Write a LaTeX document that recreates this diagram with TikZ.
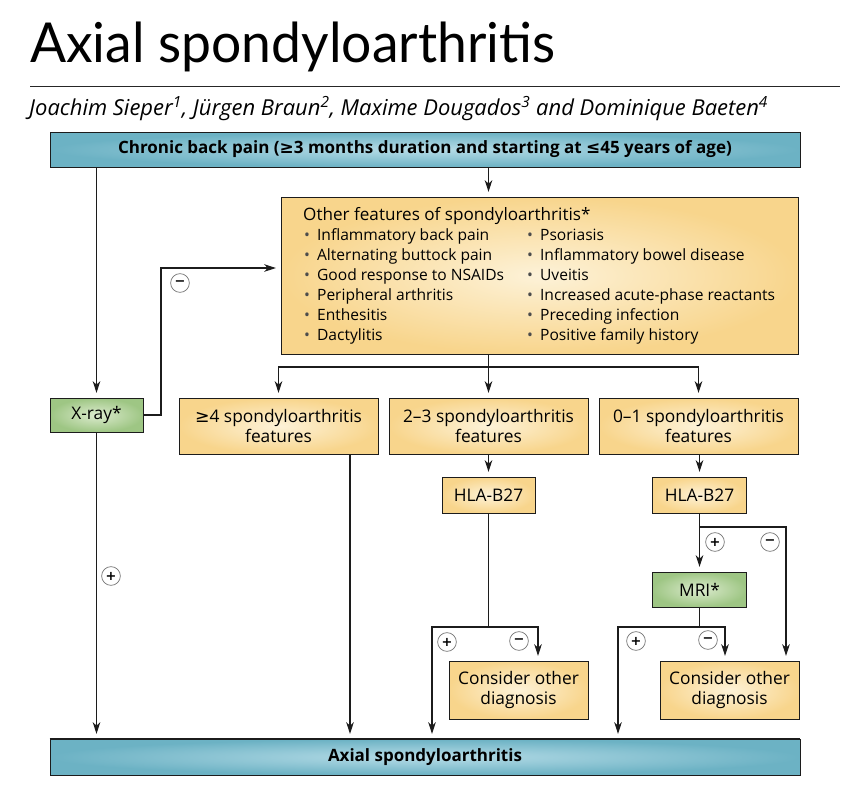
\documentclass[tikz,border=0pt]{standalone}
\usepackage{fontspec}
\setmainfont{Open Sans}
\newfontfamily\symfont{DejaVu Sans}
\newfontfamily\titlefont[FakeStretch=0.97]{Lato}
\usetikzlibrary{arrows.meta}
\definecolor{edge}{RGB}{28,28,28}
\definecolor{barteal}{RGB}{108,178,196}
\definecolor{barlight}{RGB}{182,220,231}
\definecolor{boxyel}{RGB}{248,213,140}
\definecolor{boxlight}{RGB}{253,242,216}
\definecolor{boxgreen}{RGB}{158,198,132}
\definecolor{greenlight}{RGB}{220,235,206}

\begin{document}
\begin{tikzpicture}[scale=0.3]
	\tikzstyle{every node}+=[inner sep=0pt]
	\tikzstyle{bar}=[draw=edge, line width=0.8pt, inner color=barlight, outer color=barteal, minimum width=22.5cm, font=\fontsize{14.5}{17}\selectfont\bfseries]
	\tikzstyle{yelbox}=[draw=edge, line width=0.8pt, inner color=boxlight, outer color=boxyel, align=center, font=\fontsize{14.8}{17}\selectfont]
	\tikzstyle{grnbox}=[draw=edge, line width=0.8pt, inner color=greenlight, outer color=boxgreen, align=center, font=\fontsize{14.8}{17}\selectfont]
	\tikzstyle{item}=[anchor=base west, font=\fontsize{13.3}{15}\selectfont]
	\tikzstyle{sign}=[circle, draw=black!55, line width=0.6pt, minimum size=16pt, fill=white, font=\symfont\bfseries\fontsize{11}{11}\selectfont]
	\tikzstyle{line}=[draw=edge, line width=0.9pt]
	\tikzstyle{arr}=[line, -{Stealth[length=10pt, width=6.5pt, inset=3pt]}, shorten >=4pt]
	\useasboundingbox (0,0) rectangle (86.3,-79.1);
	\node [anchor=base west, font=\titlefont\fontsize{47}{50}\selectfont] (title) at (3.0,-6.2) {Axial spondyloarthritis};
	\draw [line width=0.7pt, black!85] (3.0,-8.6) -- (84.0,-8.6);
	\node [anchor=base west, font=\itshape\fontsize{18.75}{20}\selectfont] (authors) at (2.9,-11.5) {Joachim Sieper\textsuperscript{1}, Jürgen Braun\textsuperscript{2}, Maxime Dougados\textsuperscript{3} and Dominique Baeten\textsuperscript{4}};
	\node [bar, minimum height=1.05cm] (chronic) at (42.5,-14.95) {Chronic back pain ({\symfont ≥}3 months duration and starting at {\symfont ≤}45 years of age)};
	\node [yelbox, minimum width=15.51cm, minimum height=4.71cm] (features) at (53.95,-27.55) {};
	\node [item, font=\fontsize{14.6}{15}\selectfont] (ft) at (30.3,-22.0) {Other features of spondyloarthritis*};
	\node [item] (a1) at (30.4,-24.0) {{\color{black!70}\textbullet}\hspace{6pt}Inflammatory back pain};
	\node [item] (a2) at (30.4,-26.0) {{\color{black!70}\textbullet}\hspace{6pt}Alternating buttock pain};
	\node [item] (a3) at (30.4,-28.0) {{\color{black!70}\textbullet}\hspace{6pt}Good response to NSAIDs};
	\node [item] (a4) at (30.4,-30.0) {{\color{black!70}\textbullet}\hspace{6pt}Peripheral arthritis};
	\node [item] (a5) at (30.4,-32.0) {{\color{black!70}\textbullet}\hspace{6pt}Enthesitis};
	\node [item] (a6) at (30.4,-34.0) {{\color{black!70}\textbullet}\hspace{6pt}Dactylitis};
	\node [item] (b1) at (52.7,-24.0) {{\color{black!70}\textbullet}\hspace{6pt}Psoriasis};
	\node [item] (b2) at (52.7,-26.0) {{\color{black!70}\textbullet}\hspace{6pt}Inflammatory bowel disease};
	\node [item] (b3) at (52.7,-28.0) {{\color{black!70}\textbullet}\hspace{6pt}Uveitis};
	\node [item] (b4) at (52.7,-30.0) {{\color{black!70}\textbullet}\hspace{6pt}Increased acute-phase reactants};
	\node [item] (b5) at (52.7,-32.0) {{\color{black!70}\textbullet}\hspace{6pt}Preceding infection};
	\node [item] (b6) at (52.7,-34.0) {{\color{black!70}\textbullet}\hspace{6pt}Positive family history};
	\node [grnbox, minimum width=2.79cm, minimum height=1.02cm] (xray) at (9.65,-41.5) {X-ray*};
	\node [yelbox, minimum width=5.97cm, minimum height=1.68cm] (four) at (27.85,-42.6) {{\symfont ≥}4 spondyloarthritis\\features};
	\node [yelbox, minimum width=5.97cm, minimum height=1.68cm] (two) at (48.85,-42.6) {2--3 spondyloarthritis\\features};
	\node [yelbox, minimum width=5.97cm, minimum height=1.68cm] (three) at (69.85,-42.6) {0--1 spondyloarthritis\\features};
	\node [yelbox, minimum width=2.79cm, minimum height=1.08cm] (hla1) at (48.85,-49.5) {HLA-B27};
	\node [yelbox, minimum width=2.82cm, minimum height=1.08cm] (hla2) at (69.95,-49.5) {HLA-B27};
	\node [grnbox, minimum width=2.82cm, minimum height=1.05cm] (mri) at (69.95,-58.95) {MRI*};
	\node [yelbox, minimum width=4.17cm, minimum height=1.74cm] (other1) at (51.85,-69.0) {Consider other\\diagnosis};
	\node [yelbox, minimum width=4.17cm, minimum height=1.74cm] (other2) at (72.95,-69.0) {Consider other\\diagnosis};
	\node [bar, minimum height=1.08cm] (axial) at (42.5,-75.7) {Axial spondyloarthritis};
	\draw [edge, line width=1.6pt] (axial.north west) -- (axial.north east);
	\coordinate (bus) at (48.85,-36.7);
	\coordinate (bend) at (16.1,-26.8);
	\coordinate (s4) at (35.0,-45.4);
	\coordinate (sp1) at (48.85,-62.7);
	\coordinate (l1) at (43.2,-62.7);
	\coordinate (r1) at (53.8,-62.7);
	\coordinate (sp2) at (69.95,-52.7);
	\coordinate (r2) at (78.6,-52.7);
	\coordinate (sp3) at (69.95,-62.7);
	\coordinate (l3) at (61.8,-62.7);
	\coordinate (r3) at (72.5,-62.7);
	\draw [arr] (chronic.south -| xray.north) -- (xray.north);
	\draw [arr] (chronic.south -| two.north) -- (features.north -| two.north);
	\draw [arr] (xray.east) -| (bend) -- (bend -| features.west);
	\draw [line] (features.south -| bus) -- (bus);
	\draw [arr] (bus) -| (four.north);
	\draw [arr] (bus) -| (three.north);
	\draw [arr] (bus) -- (two.north);
	\draw [arr] (xray.south) -- (xray.south |- axial.north);
	\draw [arr] (s4) -- (s4 |- axial.north);
	\draw [arr] (two.south) -- (hla1.north);
	\draw [arr] (three.south -| hla2.north) -- (hla2.north);
	\draw [line] (hla1.south) -- (sp1);
	\draw [arr] (sp1) -- (l1) -- (l1 |- axial.north);
	\draw [arr] (sp1) -- (r1) -- (r1 |- other1.north);
	\draw [arr] (hla2.south) -- (sp2) -- (mri.north);
	\draw [arr] (sp2) -- (r2) -- (r2 |- other2.north);
	\draw [line] (mri.south) -- (sp3);
	\draw [arr] (sp3) -- (l3) -- (l3 |- axial.north);
	\draw [arr] (sp3) -- (r3) -- (r3 |- other2.north);
	\node [sign] (m1) at (18.0,-28.3) {−};
	\node [sign] (p1) at (11.1,-57.6) {+};
	\node [sign] (p2) at (44.7,-64.2) {+};
	\node [sign] (m2) at (51.9,-64.1) {−};
	\node [sign] (p3) at (71.5,-54.2) {+};
	\node [sign] (m3) at (77.0,-54.2) {−};
	\node [sign] (p4) at (63.6,-64.1) {+};
	\node [sign] (m4) at (70.8,-64.0) {−};
\end{tikzpicture}
\end{document}
